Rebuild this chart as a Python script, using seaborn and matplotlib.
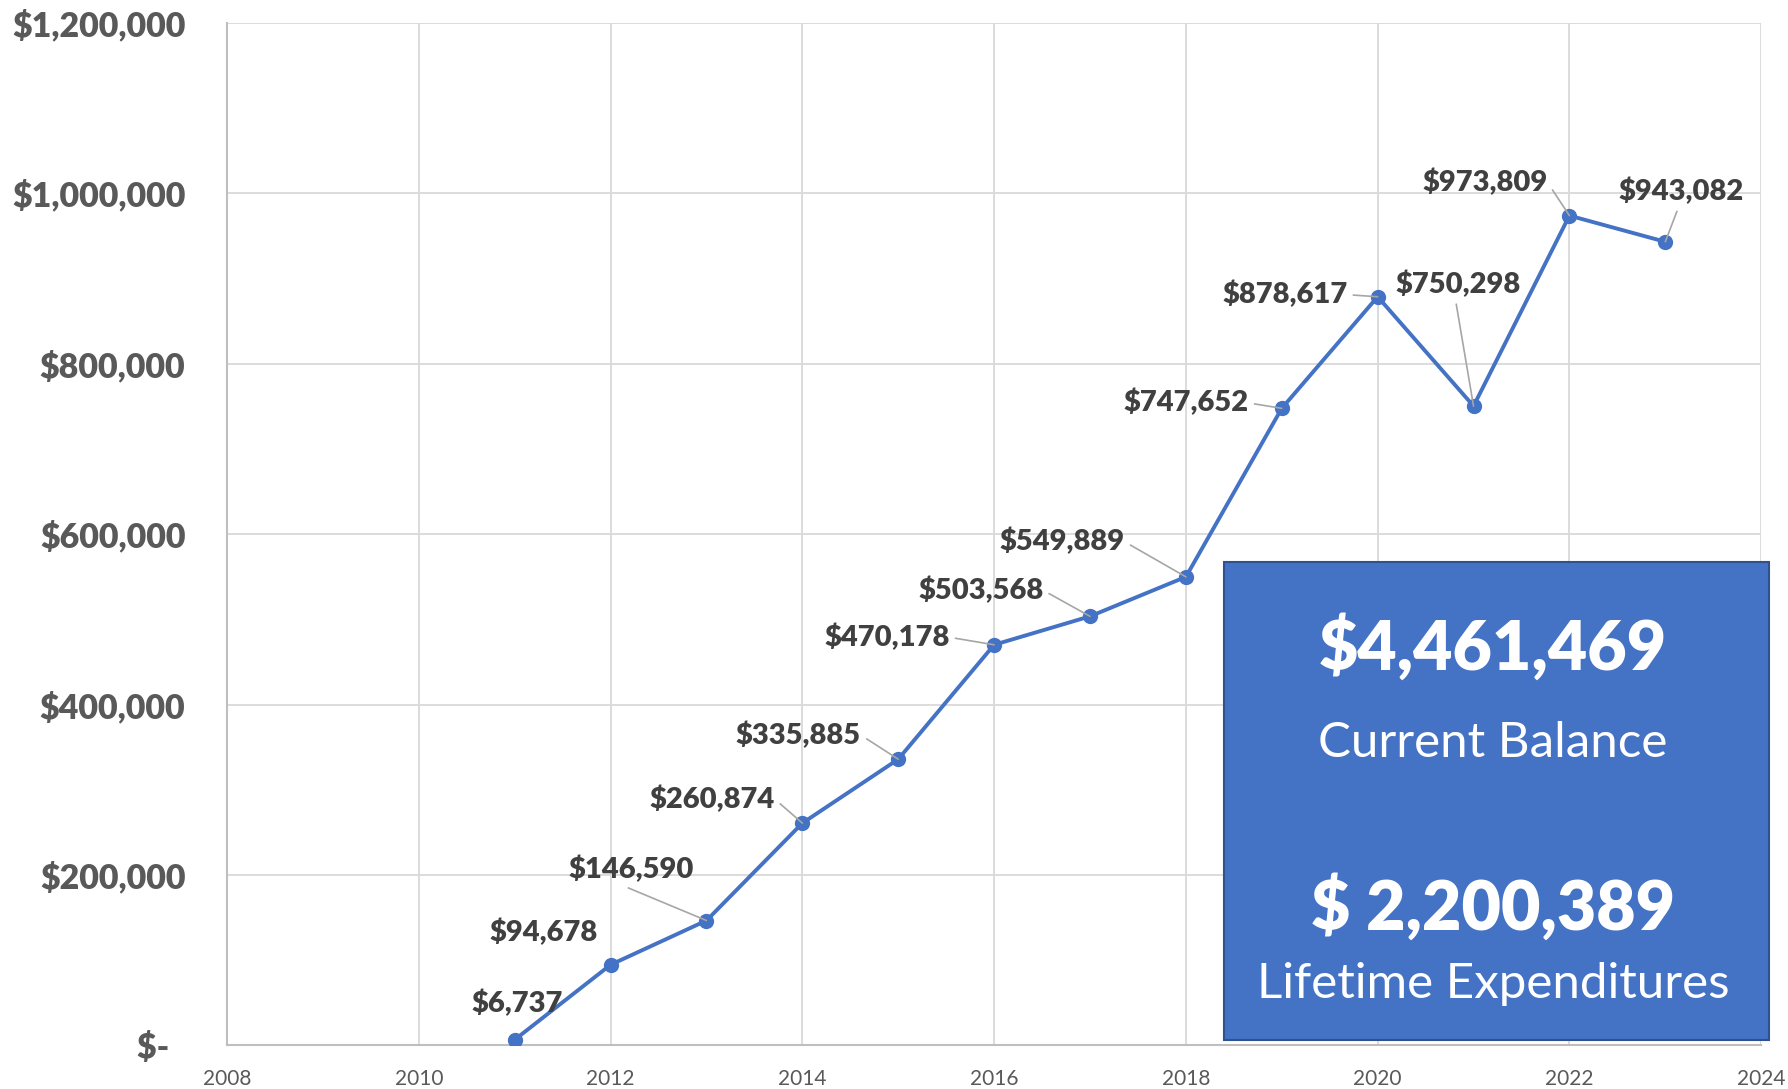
import matplotlib.pyplot as plt
import seaborn as sns
from matplotlib.patches import Rectangle
from matplotlib.ticker import FuncFormatter

# Values
years    = [2011, 2012, 2013, 2014, 2015, 2016, 2017, 2018, 2019, 2020, 2021, 2022, 2023]
balances = [6737, 94678, 146590, 260874, 335885, 470178, 503568, 549889,
            747652, 878617, 750298, 973809, 943082]

# Where Excel parked each data label (centre, data units) and where its leader leaves the text
label_x   = [2011.03, 2011.30, 2012.21, 2013.06, 2013.96, 2014.88, 2015.86, 2016.71,
             2018.00, 2019.03, 2020.84, 2021.12, 2023.16]
label_y   = [49600, 132600, 206000, 289000, 364000, 479000, 534000, 591000,
             754000, 881000, 893000, 1012500, 1001800]
leader_at = [None, None, (0.45, -0.1), (1.0, 0.5), (1.0, 0.5), (1.0, 0.5), (1.0, 0.5),
             (1.0, 0.5), (1.0, 0.5), (1.0, 0.5), (0.48, -0.1), (1.0, 0.5), (0.48, -0.1)]

summary_values = ['$4,461,469', '$ 2,200,389']
summary_names  = ['Current Balance', 'Lifetime Expenditures']

BLUE = '#4472C4'


def money(v, pos):
    return '$-  ' if v == 0 else f'${v:,.0f}'


sns.set_style('white')
plt.rcParams['font.family'] = ['Lato', 'DejaVu Sans']

fig = plt.figure(figsize=(17.88, 10.89), dpi=100)
ax = fig.add_axes([0.127, 0.040, 0.858, 0.939])

sns.lineplot(x=years, y=balances, ax=ax, color=BLUE, linewidth=2.8,
             marker='o', markersize=11, markeredgewidth=0, zorder=3)

ax.set_xlim(2008, 2024)
ax.set_ylim(0, 1200000)
ax.set_xticks(range(2008, 2025, 2))
ax.set_yticks(range(0, 1200001, 200000))
ax.yaxis.set_major_formatter(FuncFormatter(money))
ax.grid(True, color='#d9d9d9', linewidth=1.3)
ax.set_axisbelow(True)

for side in ['top', 'right']:
    ax.spines[side].set_visible(False)
for side in ['left', 'bottom']:
    ax.spines[side].set_color('#bfbfbf')
    ax.spines[side].set_linewidth(1.5)

ax.tick_params(axis='y', length=0, pad=30, labelsize=24.5, labelcolor='#595959')
ax.tick_params(axis='x', length=0, pad=17, labelsize=15, labelcolor='#595959')
for t in ax.get_yticklabels():
    t.set_fontweight('heavy')

# Data labels with grey leader lines
for yr, val, lx, ly, rel in zip(years, balances, label_x, label_y, leader_at):
    arrow = None
    if rel is not None:
        arrow = dict(arrowstyle='-', color='#a6a6a6', linewidth=1.2,
                     shrinkA=2, shrinkB=0, relpos=rel)
    ax.annotate(f'${val:,.0f}', xy=(yr, val), xytext=(lx, ly), textcoords='data',
                ha='center', va='center', fontsize=21, fontweight='heavy',
                color='#404040', arrowprops=arrow, zorder=4)

# Summary box
fig.patches.append(Rectangle((0.6846, 0.045), 0.3048, 0.439, transform=fig.transFigure,
                             facecolor=BLUE, edgecolor='#2F528F', linewidth=1.5, zorder=5))
fig.text(0.835, 0.405, summary_values[0], ha='center', va='center', color='white',
         fontsize=49, fontweight='heavy', zorder=6)
fig.text(0.835, 0.318, summary_names[0], ha='center', va='center', color='white',
         fontsize=35.5, zorder=6)
fig.text(0.835, 0.166, summary_values[1], ha='center', va='center', color='white',
         fontsize=49, fontweight='heavy', zorder=6)
fig.text(0.835, 0.0964, summary_names[1], ha='center', va='center', color='white',
         fontsize=35.5, zorder=6)

fig.savefig('out.png', dpi=100)
